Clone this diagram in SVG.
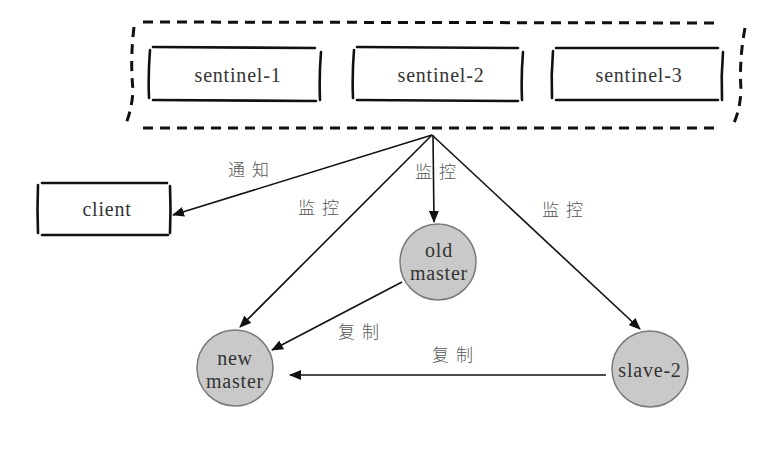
<svg xmlns="http://www.w3.org/2000/svg" width="773" height="464" viewBox="0 0 773 464">
<defs>
<style>
.box{fill:none;stroke:#111;stroke-width:2.6;stroke-linecap:round}
.dash{fill:none;stroke:#111;stroke-width:3;stroke-dasharray:10 7}
.node{font-family:"Liberation Serif","Times New Roman",serif;font-size:20px;fill:#333;text-anchor:middle;letter-spacing:0.8px}
.lbl{font-family:"Noto Sans CJK SC","Noto Sans CJK JP",sans-serif;font-weight:300;font-size:17px;fill:#555;text-anchor:middle;letter-spacing:7px}
.circ{fill:#c9c9c9;stroke:#7a7a7a;stroke-width:1.5}
.edge{fill:none;stroke:#111;stroke-width:1.6}
</style>
<marker id="ah" viewBox="0 0 12 10" refX="11" refY="5" markerWidth="12" markerHeight="10" markerUnits="userSpaceOnUse" orient="auto">
<path d="M0,0 L12,5 L0,10 Z" fill="#111"/>
</marker>
</defs>
<rect width="773" height="464" fill="#fff"/>

<g id="sentinel-group">
<path class="dash" d="M143,22 L718,23"/>
<path class="dash" d="M143,128 L718,128"/>
<path class="dash" d="M134,27 Q130,60 133,90 Q132,110 125,126"/>
<path class="dash" d="M745,28 Q739,60 741,90 Q740,112 732,127"/>
</g>

<g id="sentinel-1">
<path class="box" d="M153,47 L315,48 M153,100 L316,101 M150,50 Q148,75 149,98 M321,52 Q319,76 320,100"/>
<text class="node" x="238" y="82">sentinel-1</text>
</g>
<g id="sentinel-2">
<path class="box" d="M357,47 L518,48 M357,100 L518,101 M354,50 Q352,75 353,98 M523,52 Q521,76 522,100"/>
<text class="node" x="441" y="82">sentinel-2</text>
</g>
<g id="sentinel-3">
<path class="box" d="M556,48 L718,48 M556,100 L718,100 M553,51 Q551,75 552,98 M723,52 Q721,76 722,100"/>
<text class="node" x="639" y="82">sentinel-3</text>
</g>

<g id="client">
<path class="box" d="M42,183 L167,183 M42,235 L168,235 M38,185 Q37,210 38,233 M170,186 Q171,210 170,233"/>
<text class="node" x="107" y="216">client</text>
</g>

<g id="old-master">
<circle class="circ" cx="438" cy="262" r="38"/>
<text class="node" x="439" y="257">old</text>
<text class="node" x="439" y="280">master</text>
</g>

<g id="new-master">
<circle class="circ" cx="235" cy="368" r="38"/>
<text class="node" x="235" y="365">new</text>
<text class="node" x="235" y="388">master</text>
</g>

<g id="slave-2">
<circle class="circ" cx="650" cy="369" r="38"/>
<text class="node" x="650" y="377">slave-2</text>
</g>

<g id="connectors">
<path class="edge" marker-end="url(#ah)" d="M432,135 L173,215"/>
<path class="edge" marker-end="url(#ah)" d="M433,135 L434,222"/>
<path class="edge" marker-end="url(#ah)" d="M432,135 L240,327"/>
<path class="edge" marker-end="url(#ah)" d="M432,135 L640,329"/>
<path class="edge" marker-end="url(#ah)" d="M402,282 L272,350"/>
<path class="edge" marker-end="url(#ah)" d="M606,375 L290,375"/>
</g>

<g id="labels">
<text class="lbl" x="252" y="176">通知</text>
<text class="lbl" x="322" y="214">监控</text>
<text class="lbl" x="439" y="178">监控</text>
<text class="lbl" x="566" y="216">监控</text>
<text class="lbl" x="362" y="338">复制</text>
<text class="lbl" x="456" y="361">复制</text>
</g>
</svg>
